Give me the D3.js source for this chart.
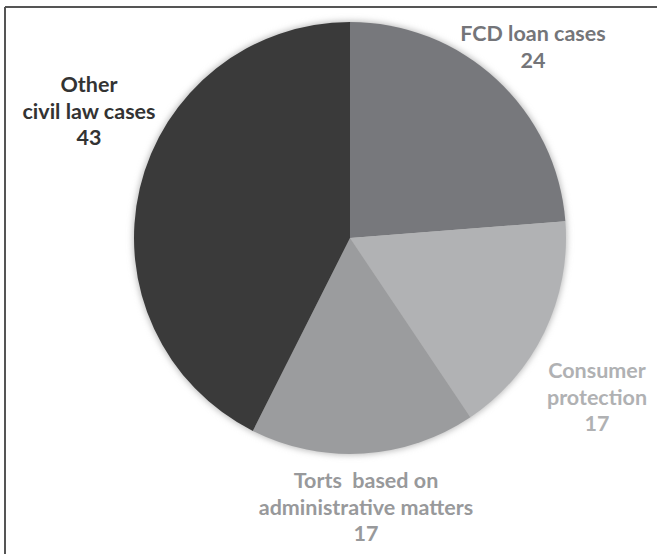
<!DOCTYPE html>
<html><head><meta charset="utf-8">
<script src="https://cdn.jsdelivr.net/npm/d3@7"></script>
<style>body{margin:0;background:#fff}svg{display:block}</style>
</head><body>
<script>
const categories = ["FCD loan cases", "Consumer protection", "Torts  based on administrative matters", "Other civil law cases"];
const values = [24, 17, 17, 43];
const labelLines = [["FCD loan cases"], ["Consumer", "protection"], ["Torts  based on", "administrative matters"], ["Other", "civil law cases"]];
const sliceColors = ["#77787c", "#b1b2b4", "#9b9c9e", "#3a3a3a"];
const labelColors = ["#747579", "#b0b1b3", "#98999b", "#333333"];

const W = 657, H = 554, cx = 350, cy = 238, R = 216;
const svg = d3.select("body").append("svg").attr("width", W).attr("height", H);
const defs = svg.append("defs");
const f = defs.append("filter").attr("id", "sh").attr("x", "-20%").attr("y", "-20%").attr("width", "140%").attr("height", "140%");
f.append("feGaussianBlur").attr("stdDeviation", 3);

// frame
svg.append("line").attr("x1", 5).attr("x2", W).attr("y1", 7).attr("y2", 7).attr("stroke", "#555").attr("stroke-width", 2);
svg.append("line").attr("x1", 5).attr("x2", 5).attr("y1", 7).attr("y2", H).attr("stroke", "#555").attr("stroke-width", 2);

const g = svg.append("g").attr("transform", `translate(${cx},${cy})`);
const pie = d3.pie().sort(null).value(d => d)(values);
const arc = d3.arc().innerRadius(0).outerRadius(R);
g.append("circle").attr("r", R + 1).attr("fill", "#bbb").attr("filter", "url(#sh)");
g.selectAll("path.s").data(pie).join("path").attr("class", "s")
  .attr("d", arc).attr("fill", (d, i) => sliceColors[i]);

const labelPos = [[533, 41], [597, 378], [366, 488], [89, 92]];
const lh = 26.5;
labelPos.forEach((p, i) => {
  const lines = labelLines[i].concat([String(values[i])]);
  const t = svg.append("text").attr("x", p[0]).attr("y", p[1]).attr("text-anchor", "middle")
    .attr("font-family", "Lato, 'Open Sans', sans-serif").attr("font-weight", "bold").attr("font-size", 21.5)
    .attr("fill", labelColors[i]);
  lines.forEach((l, k) => t.append("tspan").attr("x", p[0]).attr("y", p[1] + k * lh).text(l).attr("xml:space", "preserve").style("white-space", "pre"));
});
</script>
</body></html>
